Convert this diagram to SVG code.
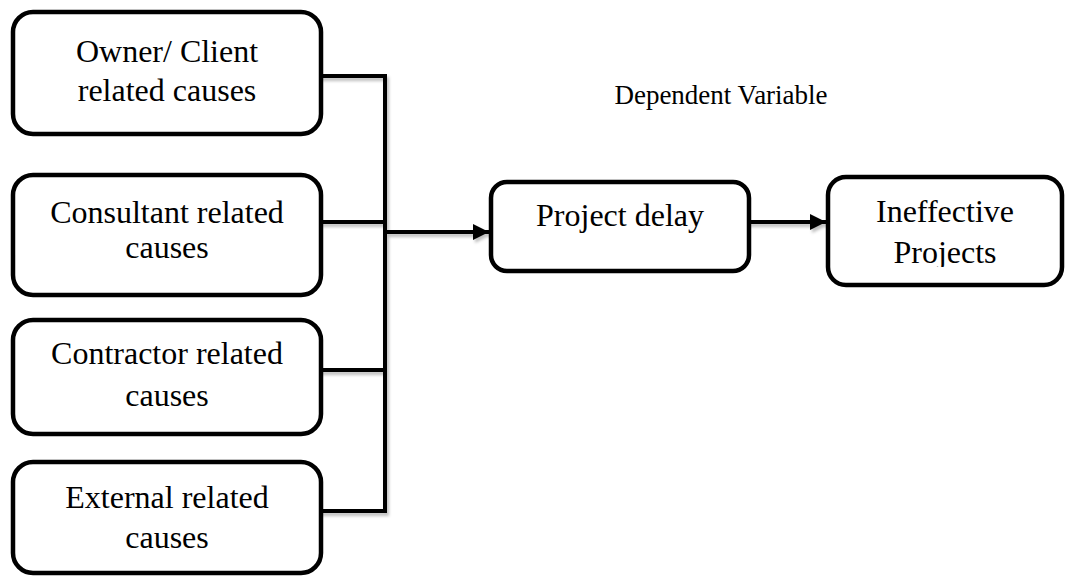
<svg xmlns="http://www.w3.org/2000/svg" width="1067" height="578" viewBox="0 0 1067 578">
  <style>
    .box { fill: #ffffff; stroke: #000000; stroke-width: 4.5; }
    .lbl { font-family: 'Liberation Serif', 'Times New Roman', Times, 'DejaVu Serif', serif; font-size: 32px; fill: #000000; text-anchor: middle; }
    .note { font-family: 'Liberation Serif', 'Times New Roman', Times, 'DejaVu Serif', serif; font-size: 27px; fill: #000000; text-anchor: middle; }
    .wire { fill: none; stroke: #000000; stroke-width: 4; stroke-linejoin: miter; stroke-linecap: square; }
  </style>
  <defs>
    <filter id="shade" x="-10%" y="-10%" width="130%" height="130%">
      <feDropShadow dx="2" dy="3" stdDeviation="1.8" flood-color="#000000" flood-opacity="0.25"/>
    </filter>
    <marker id="head" viewBox="0 0 10 10" refX="10" refY="5" markerWidth="4" markerHeight="4" orient="auto" markerUnits="strokeWidth">
      <path d="M0,0 L10,5 L0,10 Z" fill="#000000"/>
    </marker>
    <clipPath id="cutProjects">
      <rect x="828" y="177" width="236" height="90"/>
    </clipPath>
  </defs>

  <!-- connectors -->
  <g id="connectors" filter="url(#shade)">
    <path class="wire" d="M321,76 H385 V511 H321"/>
    <path class="wire" d="M321,222 H385"/>
    <path class="wire" d="M321,370 H385"/>
    <path class="wire" d="M385,232 H489" marker-end="url(#head)"/>
    <path class="wire" d="M750,222 H826" marker-end="url(#head)"/>
  </g>

  <!-- cause boxes -->
  <g id="owner">
    <rect class="box" x="13" y="12" width="308" height="122" rx="20"/>
    <text class="lbl" x="167" y="62" font-family="Liberation Serif">Owner/ Client</text>
    <text class="lbl" x="167" y="101" font-family="Liberation Serif">related causes</text>
  </g>
  <g id="consultant">
    <rect class="box" x="13" y="175" width="308" height="120" rx="20"/>
    <text class="lbl" x="167" y="223">Consultant related</text>
    <text class="lbl" x="167" y="258">causes</text>
  </g>
  <g id="contractor">
    <rect class="box" x="13" y="320" width="308" height="114" rx="20"/>
    <text class="lbl" x="167" y="364">Contractor related</text>
    <text class="lbl" x="167" y="406">causes</text>
  </g>
  <g id="external">
    <rect class="box" x="13" y="462" width="308" height="111" rx="20"/>
    <text class="lbl" x="167" y="508">External related</text>
    <text class="lbl" x="167" y="548">causes</text>
  </g>

  <!-- outcome boxes -->
  <g id="delay">
    <rect class="box" x="491" y="182" width="258" height="89" rx="16"/>
    <text class="lbl" x="620" y="226">Project delay</text>
  </g>
  <g id="ineffective">
    <rect class="box" x="828" y="177" width="234" height="108" rx="18"/>
    <text class="lbl" x="945" y="222">Ineffective</text>
    <text class="lbl" x="945" y="263" clip-path="url(#cutProjects)">Projects</text>
  </g>

  <g id="dependent-label">
    <text class="note" x="721" y="104">Dependent Variable</text>
  </g>
</svg>
